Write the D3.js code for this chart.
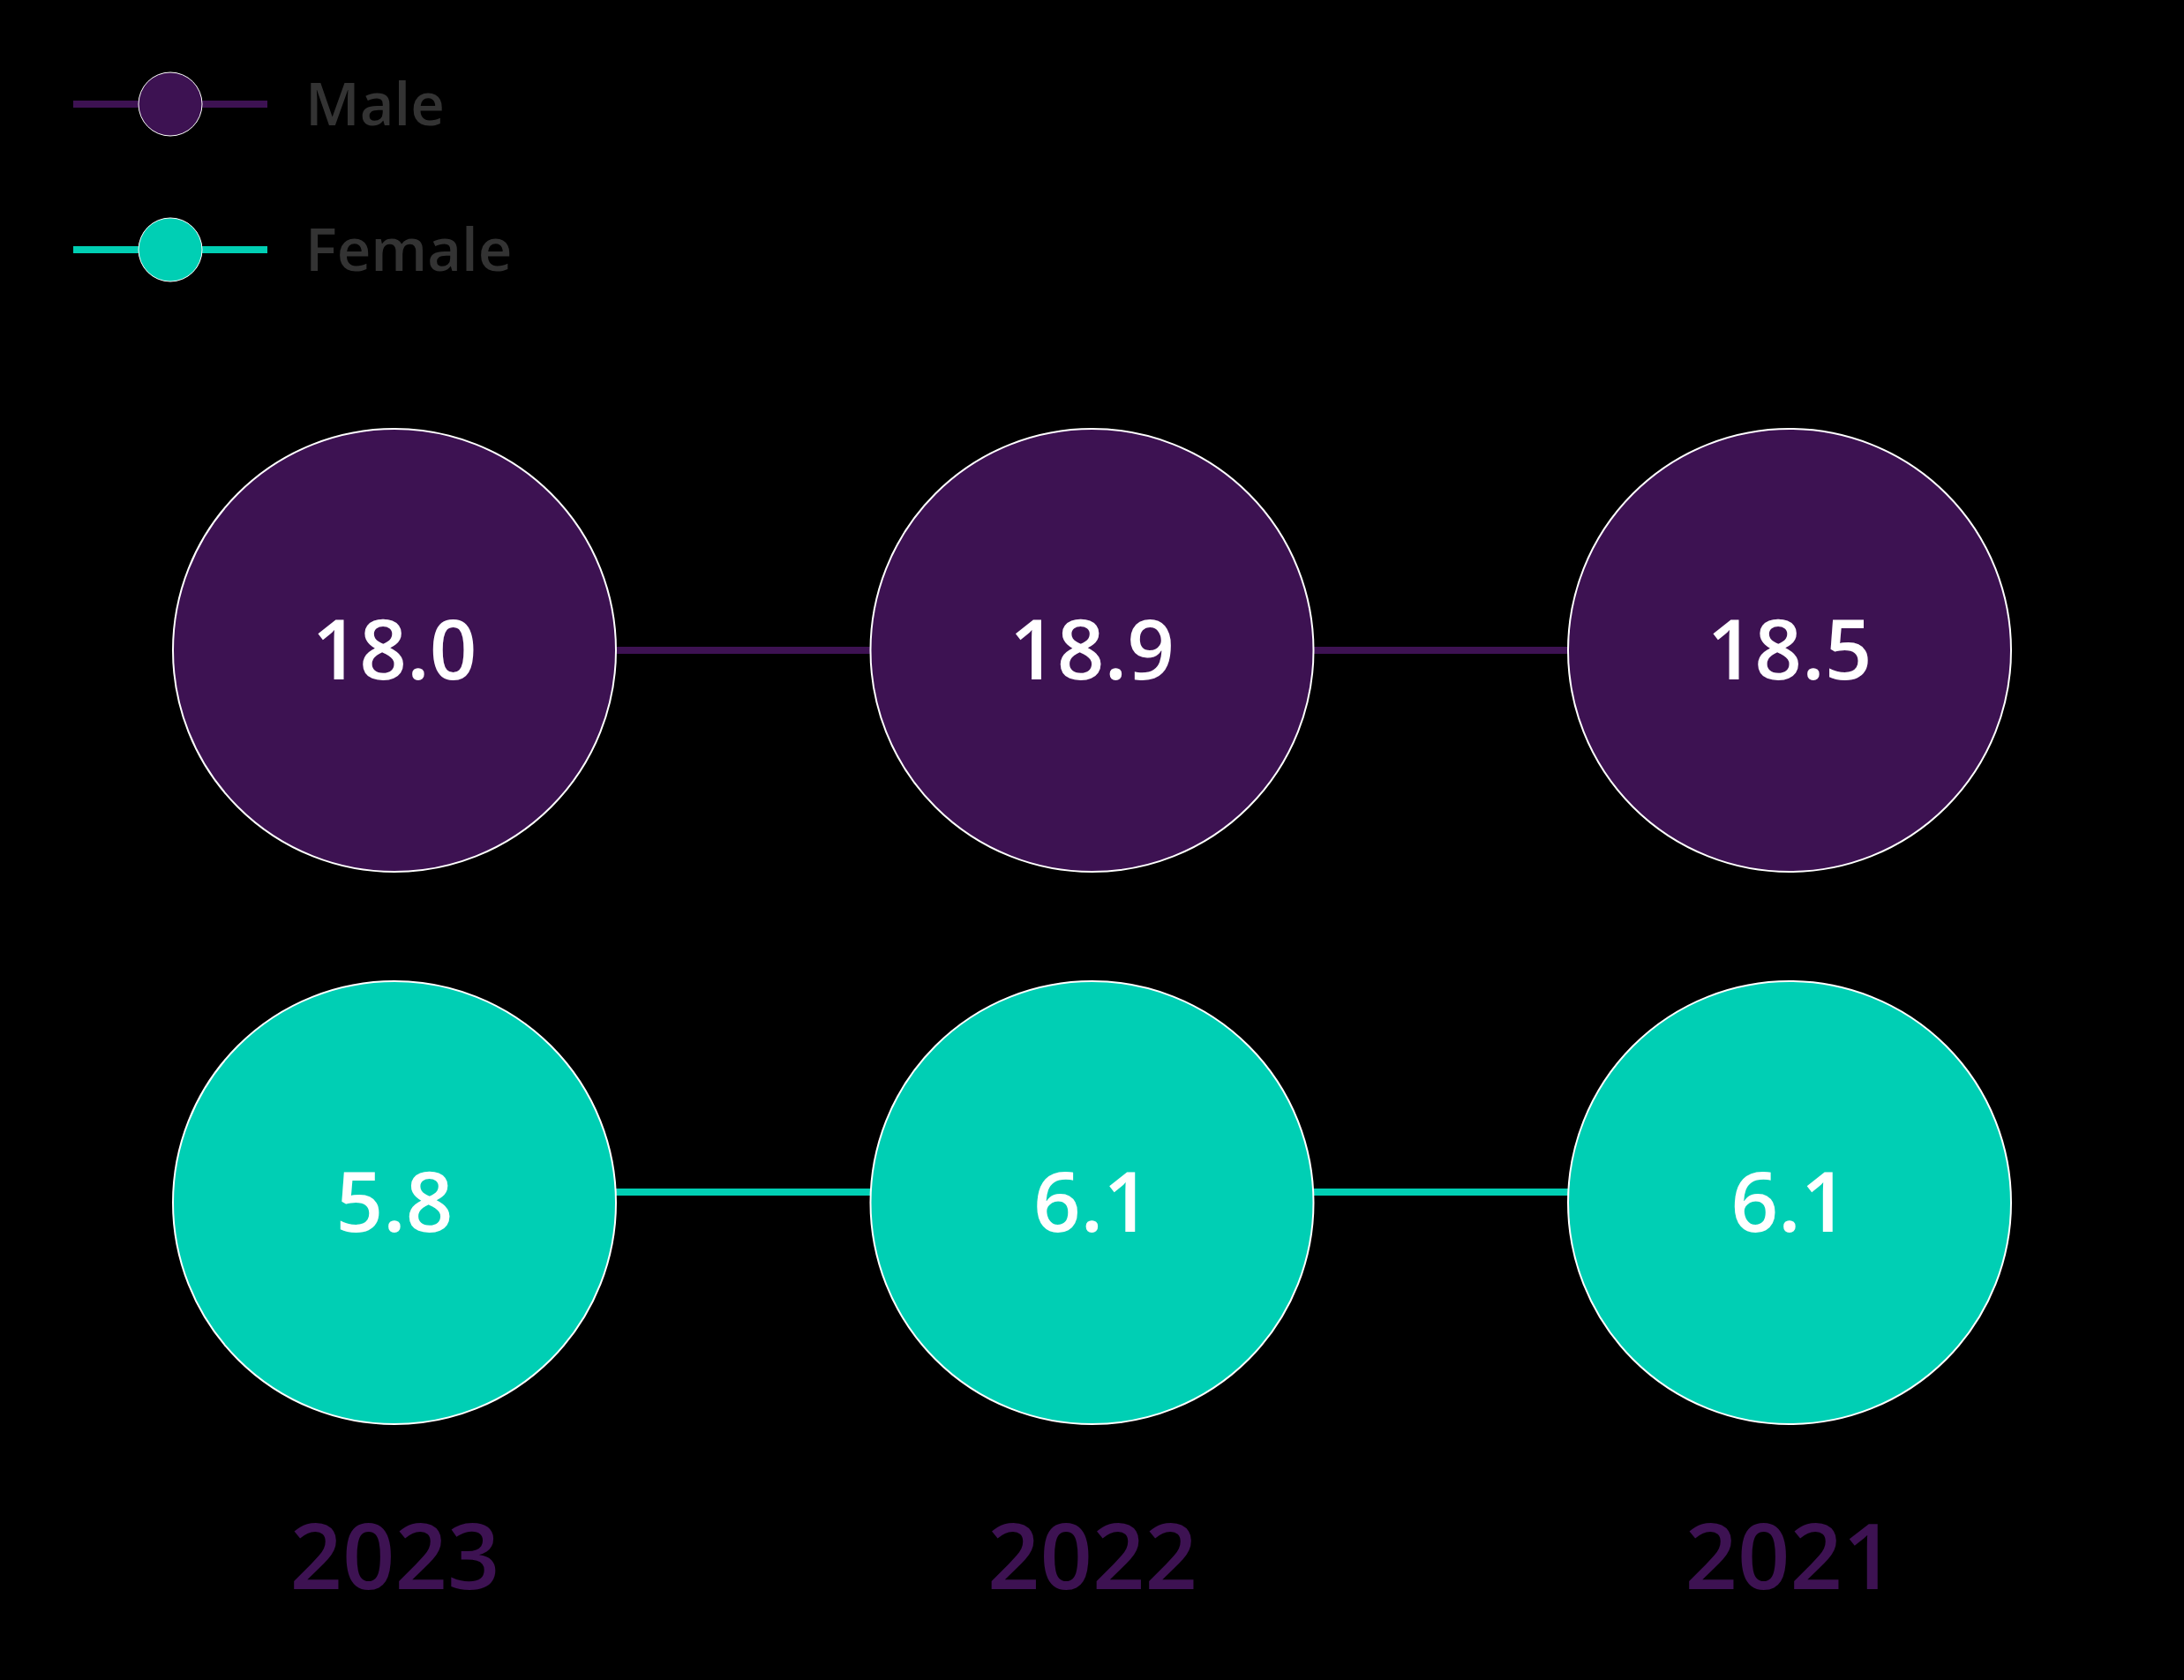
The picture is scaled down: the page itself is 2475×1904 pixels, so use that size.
<!DOCTYPE html>
<html>
<head>
<meta charset="utf-8">
<script src="https://cdn.jsdelivr.net/npm/d3@7"></script>
<style>
  html, body { margin: 0; padding: 0; background: #000; }
  svg { display: block; }
</style>
</head>
<body>
<div id="chart"></div>
<script>
// ---- data ----
const years = ["2023", "2022", "2021"];
const seriesNames = ["Male", "Female"];
const maleValues = [18.0, 18.9, 18.5];
const femaleValues = [5.8, 6.1, 6.1];
const seriesColors = ["#3d1252", "#00cfb4"];

// ---- layout ----
const W = 2475, H = 1904;
const R = 251;

const svg = d3.select("#chart").append("svg")
  .attr("width", W).attr("height", H)
  .style("background", "#000");

const x = d3.scalePoint().domain(years).range([447, 2028]);
const y = d3.scalePoint().domain(seriesNames).range([737, 1363]);
const lineOffset = { Male: 0, Female: -12 };
const color = d3.scaleOrdinal().domain(seriesNames).range(seriesColors);

const series = [
  { name: "Male", values: maleValues },
  { name: "Female", values: femaleValues }
];

const font = "'Open Sans', 'Noto Sans', sans-serif";

// connecting lines
series.forEach(s => {
  const line = d3.line()
    .x(d => x(d.year))
    .y(() => y(s.name) + lineOffset[s.name]);
  svg.append("path")
    .datum(years.map((yr, i) => ({ year: yr, v: s.values[i] })))
    .attr("d", line)
    .attr("fill", "none")
    .attr("stroke", color(s.name))
    .attr("stroke-width", 8);
});

// circles + value labels
series.forEach(s => {
  const g = svg.append("g");
  const pts = years.map((yr, i) => ({ year: yr, v: s.values[i] }));
  g.selectAll("circle").data(pts).join("circle")
    .attr("cx", d => x(d.year))
    .attr("cy", y(s.name))
    .attr("r", R)
    .attr("fill", color(s.name))
    .attr("stroke", "#fff")
    .attr("stroke-width", 2);
  g.selectAll("text").data(pts).join("text")
    .attr("x", d => x(d.year))
    .attr("y", y(s.name))
    .attr("dy", "0.35em")
    .attr("text-anchor", "middle")
    .attr("font-family", font)
    .attr("font-weight", 600)
    .attr("font-size", 94)
    .attr("fill", "#fff")
    .text(d => d.v.toFixed(1));
});

// year labels
const xAxis = d3.axisBottom(x).tickSize(0).tickPadding(0);
const ax = svg.append("g").attr("transform", "translate(0,1727)").call(xAxis);
ax.select(".domain").remove();
ax.selectAll("text")
  .attr("font-family", font)
  .attr("font-weight", 600)
  .attr("font-size", 104)
  .attr("fill", "#3d1252")
  .attr("dy", "0.71em");

// legend
const legendY = d3.scalePoint().domain(seriesNames).range([118, 283]);
const lg = svg.append("g");
seriesNames.forEach(n => {
  const gy = legendY(n);
  lg.append("line")
    .attr("x1", 83).attr("x2", 303)
    .attr("y1", gy).attr("y2", gy)
    .attr("stroke", color(n)).attr("stroke-width", 8);
  lg.append("circle")
    .attr("cx", 193).attr("cy", gy).attr("r", 36)
    .attr("fill", color(n))
    .attr("stroke", "#fff").attr("stroke-width", 1);
  lg.append("text")
    .attr("x", 346).attr("y", gy)
    .attr("dy", "0.36em")
    .attr("font-family", font)
    .attr("font-weight", 600)
    .attr("font-size", 67)
    .attr("fill", "#333333")
    .text(n);
});
</script>
</body>
</html>
